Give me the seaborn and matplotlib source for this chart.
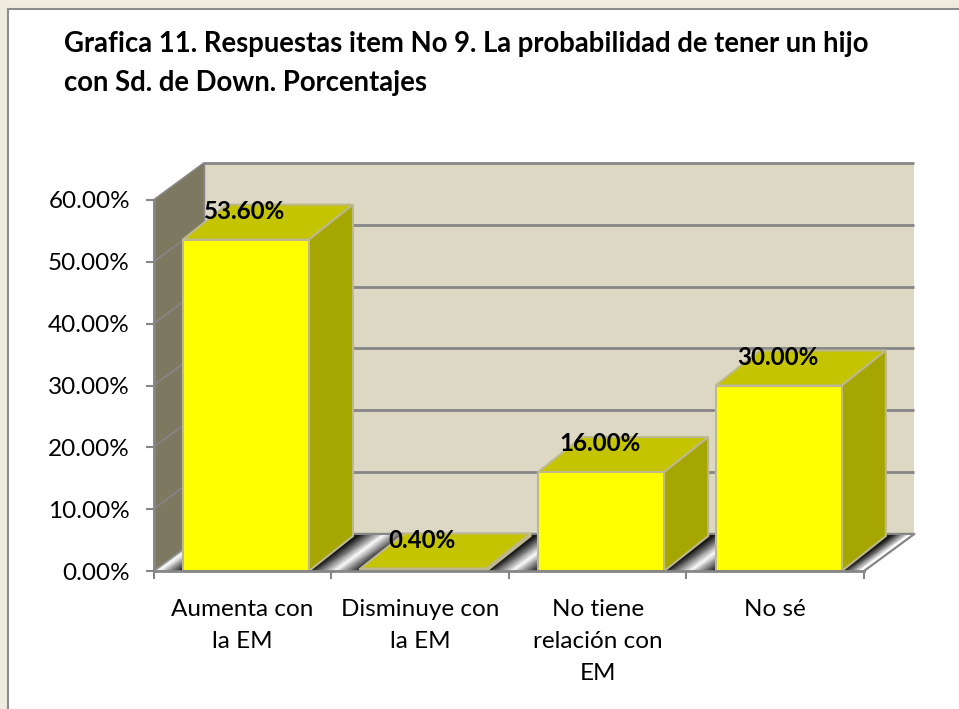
import numpy as np
import pandas as pd
import matplotlib
matplotlib.use("Agg")
import matplotlib.pyplot as plt
from matplotlib.patches import Polygon, Rectangle
import seaborn as sns

# datos de la grafica
categorias = ["Aumenta con\nla EM", "Disminuye con\nla EM", "No tiene\nrelación con\nEM", "No sé"]
porcentajes = [53.6, 0.4, 16.0, 30.0]
etiquetas = ["53.60%", "0.40%", "16.00%", "30.00%"]
y_ticks = [0, 10, 20, 30, 40, 50, 60]
y_labels = ["0.00%", "10.00%", "20.00%", "30.00%", "40.00%", "50.00%", "60.00%"]
titulo = "Grafica 11. Respuestas item No 9. La probabilidad de tener un hijo\ncon Sd. de Down. Porcentajes"

W, H = 959, 709
XLIM = (-0.52, 3.48)
YLIM = (0, 60)
# profundidad del efecto 3D, en unidades de datos
PARED_DX, PARED_DY = 0.284, 6.0
BARRA_DX, BARRA_DY = 0.248, 5.66

GRIS = "#868686"
BORDE = "#BDB88F"

sns.set_style("white")
plt.rcParams["font.family"] = ["Lato", "DejaVu Sans"]

fig = plt.figure(figsize=(W / 100, H / 100), dpi=100, facecolor="white")

# marco crema arriba y a la izquierda
fig.add_artist(Rectangle((0, 0), 7.5 / W, 1, transform=fig.transFigure, fc="#EFECDF", ec="none"))
fig.add_artist(Rectangle((0, 1 - 8.5 / H), 1, 8.5 / H, transform=fig.transFigure, fc="#EFECDF", ec="none"))
fig.add_artist(plt.Line2D([7.5 / W, 7.5 / W], [0, 1 - 8.5 / H], color="#8C8C8C", lw=1.5))
fig.add_artist(plt.Line2D([7.5 / W, 1], [1 - 8.5 / H, 1 - 8.5 / H], color="#8C8C8C", lw=1.5))

ax = fig.add_axes([153.5 / W, (H - 571) / H, 710.5 / W, 371 / H])
ax.patch.set_alpha(0)

df = pd.DataFrame({"pos": range(len(categorias)), "valor": porcentajes})
sns.barplot(data=df, x="pos", y="valor", color="#FFFF00", saturation=1, width=0.71, native_scale=True,
            edgecolor=BORDE, linewidth=1.5, ax=ax, zorder=6)

x0, x1 = XLIM
y0, y1 = YLIM

# pared del fondo y pared lateral
ax.add_patch(Polygon([(x0 + PARED_DX, y0 + PARED_DY), (x1 + PARED_DX, y0 + PARED_DY),
                      (x1 + PARED_DX, y1 + PARED_DY), (x0 + PARED_DX, y1 + PARED_DY)],
                     fc="#DDD8C3", ec="none", clip_on=False, zorder=1))
ax.add_patch(Polygon([(x0, y0), (x0 + PARED_DX, y0 + PARED_DY),
                      (x0 + PARED_DX, y1 + PARED_DY), (x0, y1)],
                     fc="#7D7860", ec="none", clip_on=False, zorder=1))

# lineas de cuadricula
for t in y_ticks:
    if t > y0:
        ax.plot([x0 + PARED_DX, x1 + PARED_DX], [t + PARED_DY, t + PARED_DY], color=GRIS, lw=2,
                clip_on=False, zorder=2, solid_capstyle="butt")
    ax.plot([x0, x0 + PARED_DX], [t, t + PARED_DY], color=GRIS, lw=1.2, clip_on=False, zorder=2)
ax.plot([x0 + PARED_DX, x0 + PARED_DX], [y0 + PARED_DY, y1 + PARED_DY], color=GRIS, lw=1, clip_on=False, zorder=2)

# piso con degradado negro-blanco entre barras
barras = list(ax.containers[0])
u = [x0, x0 + 0.03]
c = [0.75, 1.0]
for i, b in enumerate(barras):
    izq, der = b.get_x(), b.get_x() + b.get_width()
    u += [izq - 0.012, izq, der, der + 0.012]
    c += [0.1, 0.1, 0.1, 0.1]
    if i < len(barras) - 1:
        u.append((der + barras[i + 1].get_x()) / 2)
        c.append(1.0)
u += [barras[-1].get_x() + barras[-1].get_width() + 0.1, x1]
c += [1.0, 1.0]
u = np.array(u)
X = np.vstack([u, u + PARED_DX])
Y = np.vstack([np.full_like(u, y0), np.full_like(u, y0 + PARED_DY)])
C = np.vstack([c, c])
piso = ax.pcolormesh(X, Y, C, shading="gouraud", cmap="gray", vmin=0, vmax=1, zorder=1.5)
piso.set_clip_on(False)
ax.plot([x0 + PARED_DX, x1 + PARED_DX, x1], [y0 + PARED_DY, y0 + PARED_DY, y0], color=GRIS, lw=1.6,
        clip_on=False, zorder=2)

# caras superior y lateral de cada barra, tomadas de las barras de seaborn
for b, etiqueta in zip(barras, etiquetas):
    izq, der, alto = b.get_x(), b.get_x() + b.get_width(), b.get_height()
    ax.add_patch(Polygon([(izq, alto), (der, alto), (der + BARRA_DX, alto + BARRA_DY), (izq + BARRA_DX, alto + BARRA_DY)],
                         fc="#C4C400", ec=BORDE, lw=1.5, clip_on=False, zorder=4))
    ax.add_patch(Polygon([(der, 0), (der + BARRA_DX, BARRA_DY), (der + BARRA_DX, alto + BARRA_DY), (der, alto)],
                         fc="#A6A600", ec=BORDE, lw=1.5, clip_on=False, zorder=4))
    ax.text((izq + der) / 2 - 0.006, alto + 4.55, etiqueta, ha="center", va="center", fontsize=17.4,
            fontweight="bold", color="black", zorder=10)

ax.set_xlim(x0, x1)
ax.set_ylim(y0, y1)
ax.set_xlabel("")
ax.set_ylabel("")

# ticks de x en los limites de categoria, textos centrados aparte
ax.set_xticks([x0 + i for i in range(len(categorias) + 1)])
ax.set_xticklabels([])
ax.set_xticks([x0 + i + 0.5 for i in range(len(categorias))], labels=categorias, minor=True)
ax.set_yticks(y_ticks, labels=y_labels)
ax.tick_params(axis="x", which="major", length=6, width=1.5, color=GRIS, bottom=True)
ax.tick_params(axis="x", which="minor", length=0, pad=20, labelsize=17.5, labelcolor="black", bottom=True)
ax.tick_params(axis="y", length=6, width=1.5, color=GRIS, pad=11, labelsize=17.5, labelcolor="black", left=True)
for lab in ax.get_xticklabels(minor=True):
    lab.set_linespacing(1.66)
for lab in ax.get_yticklabels():
    lab.set_y(lab.get_position()[1])
for s in ["top", "right"]:
    ax.spines[s].set_visible(False)
for s in ["left", "bottom"]:
    ax.spines[s].set_color(GRIS)
    ax.spines[s].set_linewidth(2)
    ax.spines[s].set_zorder(7)
ax.set_axisbelow(False)

fig.text(64 / W, 1 - 31 / H, titulo, ha="left", va="top", fontsize=19.8, fontweight="bold",
         color="black", linespacing=1.63)

fig.savefig("out.png", dpi=100, facecolor=fig.get_facecolor())
